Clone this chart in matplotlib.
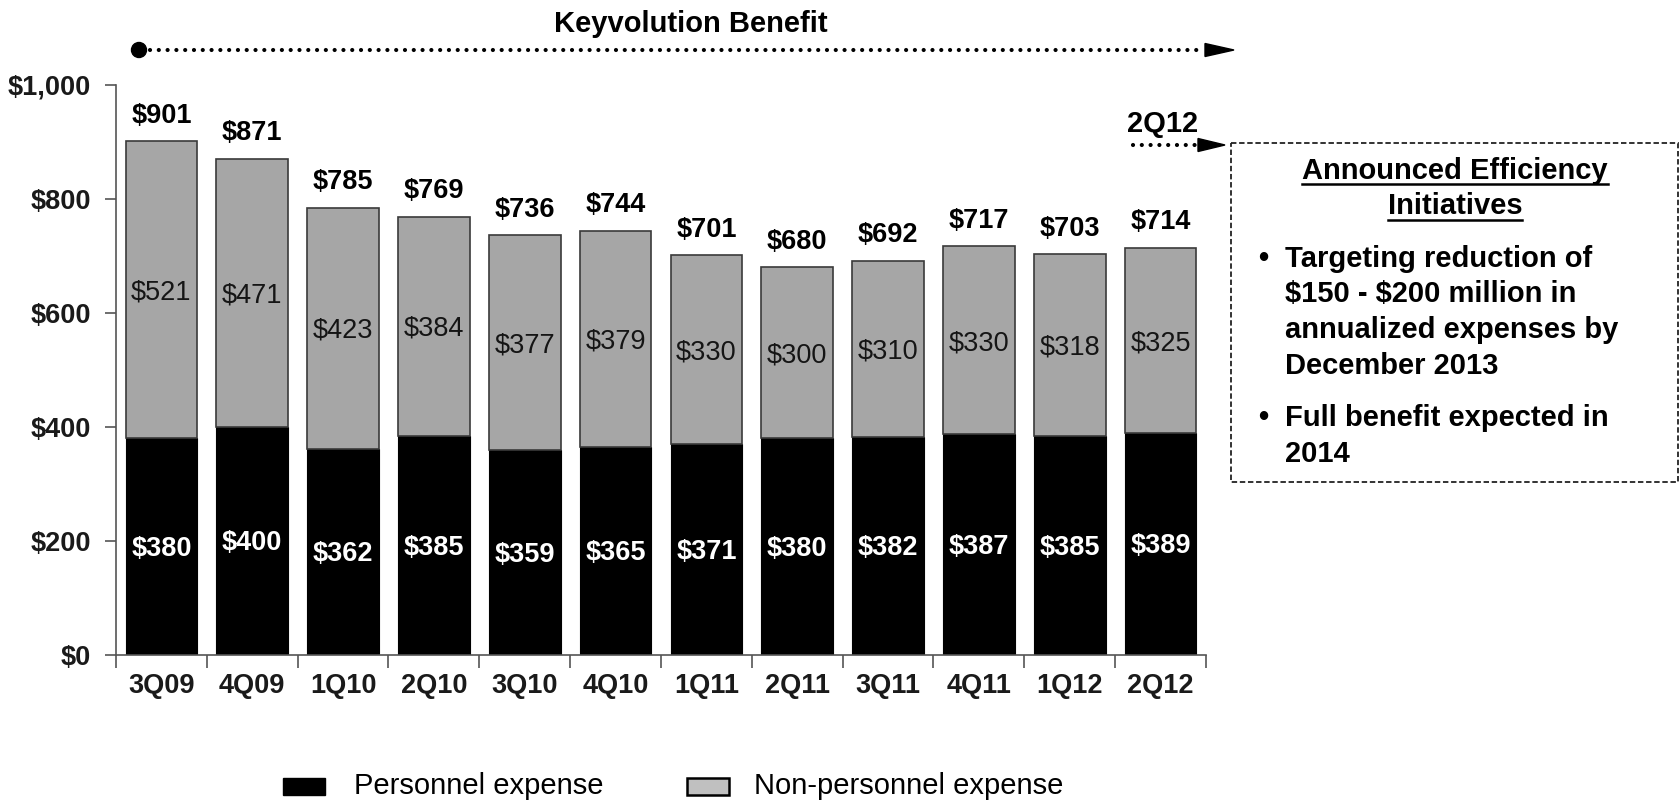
import matplotlib
matplotlib.use('Agg')
import matplotlib.pyplot as plt
import numpy as np
from matplotlib.patches import Rectangle, Polygon, Circle

quarters = ['3Q09', '4Q09', '1Q10', '2Q10', '3Q10', '4Q10',
            '1Q11', '2Q11', '3Q11', '4Q11', '1Q12', '2Q12']
personnel = [380, 400, 362, 385, 359, 365, 371, 380, 382, 387, 385, 389]
non_personnel = [521, 471, 423, 384, 377, 379, 330, 300, 310, 330, 318, 325]
totals = [901, 871, 785, 769, 736, 744, 701, 680, 692, 717, 703, 714]

box_title = ['Announced Efficiency', 'Initiatives']
box_items = [['Targeting reduction of', '$150 - $200 million in',
              'annualized expenses by', 'December 2013'],
             ['Full benefit expected in', '2014']]

plt.rcParams['font.family'] = ['Liberation Sans', 'DejaVu Sans']
plt.rcParams['text.parse_math'] = False

W, H = 1681, 801
fig = plt.figure(figsize=(W / 100, H / 100), dpi=100)


def fx(px):
    return px / W


def fy(py):
    return 1 - py / H


# main stacked bars
ax = fig.add_axes([fx(116), fy(655), fx(1206) - fx(116), fy(85) - fy(655)])
x = np.arange(len(quarters))
ax.bar(x, personnel, width=0.79, color='black', edgecolor='black', linewidth=0.8)
ax.bar(x, non_personnel, bottom=personnel, width=0.79, color='#a6a6a6',
       edgecolor='#3a3a3a', linewidth=1.2)

for i in range(len(quarters)):
    ax.text(i, personnel[i] / 2 - 4, f'${personnel[i]}', color='white',
            fontweight='bold', fontsize=19.5, ha='center', va='center')
    ax.text(i, personnel[i] + non_personnel[i] / 2 - 5, f'${non_personnel[i]}',
            color='#151515', fontsize=19.5, ha='center', va='center')
    ax.annotate(f'${totals[i]}', (i, totals[i]), xytext=(0, 13.5),
                textcoords='offset points', ha='center', va='baseline',
                fontweight='bold', fontsize=19.5)

ax.set_xlim(-0.5, len(quarters) - 0.5)
ax.set_ylim(0, 1000)
ax.set_yticks(range(0, 1001, 200))
ax.set_yticklabels([f'${v:,}' for v in range(0, 1001, 200)])
ax.set_xticks(x)
ax.set_xticklabels(quarters)
ax.set_xticks(np.arange(-0.5, len(quarters), 1), minor=True)
ax.tick_params(axis='x', which='major', length=0, pad=13, labelsize=19.5)
ax.tick_params(axis='x', which='minor', length=9, width=1.2, color='#555555')
ax.tick_params(axis='y', length=8, width=1.2, color='#555555', pad=10, labelsize=19.5)
for lbl in ax.get_xticklabels() + ax.get_yticklabels():
    lbl.set_fontweight('bold')
    lbl.set_color('#1a1a1a')
for s in ['top', 'right']:
    ax.spines[s].set_visible(False)
for s in ['left', 'bottom']:
    ax.spines[s].set_color('#555555')
    ax.spines[s].set_linewidth(1.2)

# overlay in pixel units for arrows, box and legend
ov = fig.add_axes([0, 0, 1, 1])
ov.set_xlim(0, W)
ov.set_ylim(H, 0)
ov.axis('off')

ov.text(691, 24, 'Keyvolution Benefit', fontsize=21, fontweight='bold',
        ha='center', va='center')
ov.add_patch(Circle((139, 50), 7.5, color='black'))
ov.plot([150, 1204], [50, 50], color='black', lw=3,
        linestyle=(0, (0.01, 2.1)), dash_capstyle='round')
ov.add_patch(Polygon([(1205, 43.5), (1234, 50), (1205, 56.5)], color='black'))

ov.text(1163, 124, '2Q12', fontsize=21, fontweight='bold', ha='center', va='center')
ov.plot([1133, 1196], [145, 145], color='black', lw=3,
        linestyle=(0, (0.01, 2.1)), dash_capstyle='round')
ov.add_patch(Polygon([(1198, 138.5), (1225, 145), (1198, 151.5)], color='black'))

ov.add_patch(Rectangle((1231, 143), 447, 339, fill=False, edgecolor='#222222',
                       lw=1.3, linestyle=(0, (3, 1.5))))

title_texts = []
for j, line in enumerate(box_title):
    t = ov.text(1455, 171 + 35.5 * j, line, fontsize=21, fontweight='bold',
                ha='center', va='center')
    title_texts.append(t)

y = 259
for item in box_items:
    ov.text(1263, y, '\u2022', fontsize=21, fontweight='bold', ha='center', va='center')
    for line in item:
        ov.text(1285, y, line, fontsize=21, fontweight='bold', ha='left', va='center')
        y += 35.5
    y += 17

# underline the box title
renderer = fig.canvas.get_renderer()
inv = ov.transData.inverted()
for t in title_texts:
    bb = t.get_window_extent(renderer)
    (x0, y0), (x1, y1) = inv.transform([(bb.x0, bb.y0), (bb.x1, bb.y1)])
    ov.plot([x0, x1], [t.get_position()[1] + 13, t.get_position()[1] + 13],
            color='black', lw=1.8)

# legend
ov.add_patch(Rectangle((283, 778), 42, 17, color='black'))
ov.text(354, 786, 'Personnel expense', fontsize=21, ha='left', va='center')
ov.add_patch(Rectangle((687, 778), 42, 17, facecolor='#c0c0c0',
                       edgecolor='black', lw=1.8))
ov.text(754, 786, 'Non-personnel expense', fontsize=21, ha='left', va='center')

fig.savefig('out.png', dpi=100)
